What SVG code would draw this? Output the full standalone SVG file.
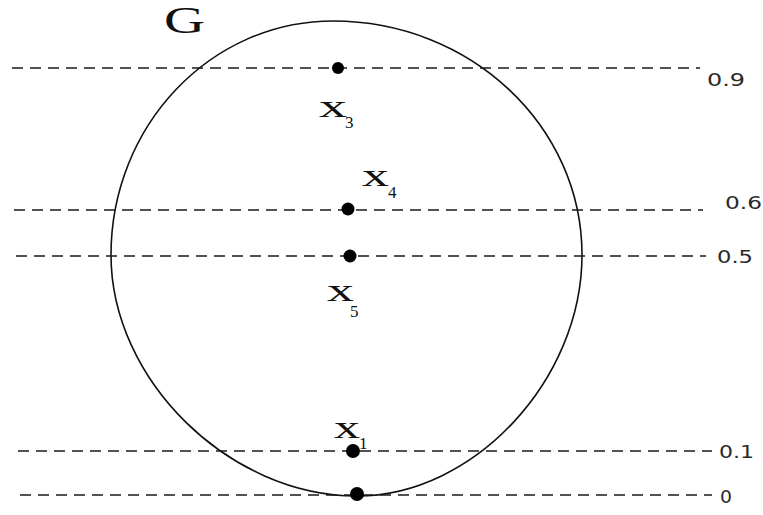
<svg xmlns="http://www.w3.org/2000/svg" width="763" height="515" viewBox="0 0 763 515">
<style>
.lvl{fill:none;stroke:#1a1a1a;stroke-width:1.6;stroke-dasharray:11 7}
.val{font-family:"DejaVu Sans","Verdana",sans-serif;font-size:17px;fill:#2a2a2a}
.var{font-family:"Liberation Serif","Times New Roman",serif;font-size:31px;fill:#111}
.sub{font-family:"Liberation Serif","Times New Roman",serif;font-size:17px;fill:#111}
.pt{fill:#000}
</style>
<rect width="763" height="515" fill="#ffffff"/>
<g id="G-set">
<path d="M333,21 C470.5,21 582,125.8 582,255 C582,380 474,496 357,496 C229,496 111,380 111,255 C111,125.8 210.4,21 333,21 Z" fill="none" stroke="#111" stroke-width="1.6"/>
<text x="164" y="33" font-family="Liberation Serif,Times New Roman,serif" font-size="38" fill="#111" textLength="41" lengthAdjust="spacingAndGlyphs">G</text>
</g>
<g id="connectors">
<line class="lvl" x1="12" y1="68" x2="700" y2="68"/>
<line class="lvl" x1="14" y1="210" x2="703" y2="210"/>
<line class="lvl" x1="16" y1="256" x2="706" y2="256"/>
<line class="lvl" x1="18" y1="451" x2="712" y2="451"/>
<line class="lvl" x1="20" y1="495" x2="712" y2="495"/>
</g>
<g id="level-labels">
<text class="val" x="707" y="86" textLength="38" lengthAdjust="spacingAndGlyphs">0.9</text>
<text class="val" x="725" y="209" textLength="37" lengthAdjust="spacingAndGlyphs">0.6</text>
<text class="val" x="717" y="263" textLength="36" lengthAdjust="spacingAndGlyphs">0.5</text>
<text class="val" x="719" y="458" textLength="35" lengthAdjust="spacingAndGlyphs">0.1</text>
<text class="val" x="720" y="503" textLength="12" lengthAdjust="spacingAndGlyphs">0</text>
</g>
<g id="x3">
<circle class="pt" cx="338" cy="68" r="6"/>
<text class="var" x="319" y="117" textLength="28" lengthAdjust="spacingAndGlyphs">x</text>
<text class="sub" x="345" y="128">3</text>
</g>
<g id="x4">
<circle class="pt" cx="348" cy="209" r="6.5"/>
<text class="var" x="362" y="186" textLength="27" lengthAdjust="spacingAndGlyphs">x</text>
<text class="sub" x="388" y="198">4</text>
</g>
<g id="x5">
<circle class="pt" cx="350" cy="256" r="6.5"/>
<text class="var" x="327" y="301" textLength="27" lengthAdjust="spacingAndGlyphs">x</text>
<text class="sub" x="350" y="317">5</text>
</g>
<g id="x1">
<circle class="pt" cx="353" cy="451" r="7"/>
<text class="var" x="334" y="438" textLength="26" lengthAdjust="spacingAndGlyphs">x</text>
<text class="sub" x="359" y="449">1</text>
</g>
<g id="x0">
<circle class="pt" cx="357" cy="494" r="7"/>
</g>
</svg>
